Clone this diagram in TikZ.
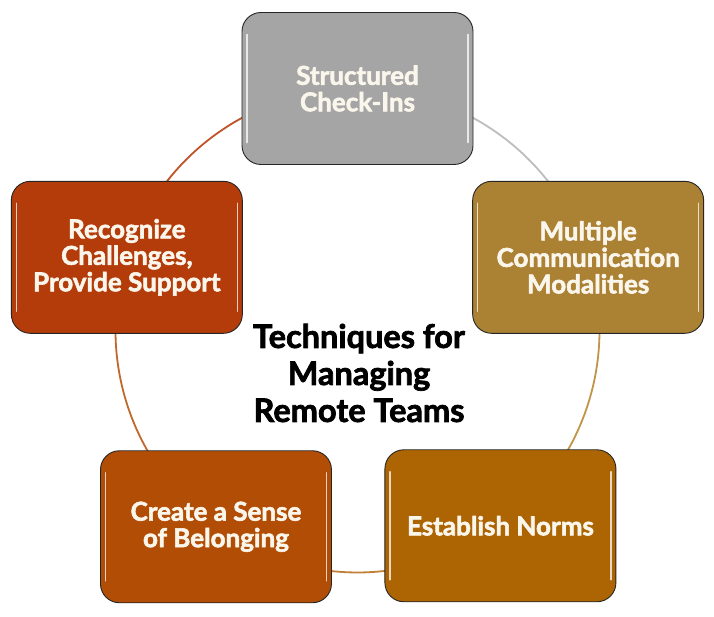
\documentclass[tikz,border=0pt]{standalone}
\usepackage{fontspec}
\setmainfont{Lato}[BoldFeatures={FakeBold=2.2}]
\usetikzlibrary{calc}
\pgfdeclarelayer{bg}
\pgfsetlayers{bg,main}
\definecolor{cTop}{HTML}{A5A5A5}
\definecolor{cRight}{HTML}{AB8133}
\definecolor{cBR}{HTML}{AD6503}
\definecolor{cBL}{HTML}{B24D05}
\definecolor{cLeft}{HTML}{B33C0A}
\definecolor{aTop}{HTML}{BDBDBD}
\definecolor{aRight}{HTML}{C0954A}
\definecolor{aBR}{HTML}{C08038}
\definecolor{aBL}{HTML}{C0692A}
\definecolor{aLeft}{HTML}{C05428}
\definecolor{boxtext}{HTML}{FBF6EC}
\tikzset{
  box/.style={rounded corners=19pt, draw=black!85, line width=0.9pt,
    minimum width=231pt, minimum height=152pt, text=boxtext,
    font=\fontsize{26}{26.5}\selectfont\bfseries, align=center,
    path picture={
      \draw[white, opacity=0.75, line width=1.6pt, line cap=round]
        ([xshift=5pt,yshift=-22pt]path picture bounding box.north west) --
        ([xshift=5pt,yshift=22pt]path picture bounding box.south west);
      \draw[white, opacity=0.75, line width=1.6pt, line cap=round]
        ([xshift=-5pt,yshift=-22pt]path picture bounding box.north east) --
        ([xshift=-5pt,yshift=22pt]path picture bounding box.south east);
    }},
  ring/.style={line width=1.8pt},
  title/.style={font=\fontsize{32.5}{37}\selectfont\bfseries, align=center, text=black}
}
\begin{document}
\begin{tikzpicture}[x=1pt,y=1pt]
\useasboundingbox (0,0) rectangle (714,617);
\coordinate (c) at (357.5,286.5);
\node[box, fill=cTop]   (top)   at ($(c)+(90:242)$)     {Structured\\Check-Ins};
\node[box, fill=cRight] (right) at ($(c)+(17.6:242)$)   {Multiple\\Communication\\Modalities};
\node[box, fill=cBR]    (br)    at ($(c)+(-53.8:242)$)  {Establish Norms};
\node[box, fill=cBL]    (bl)    at ($(c)+(-125.8:242)$) {Create a Sense\\of Belonging};
\node[box, fill=cLeft]  (left)  at ($(c)+(162.4:242)$)  {Recognize\\Challenges,\\Provide Support};
\node[title] (ttl) at (359,244) {Techniques for\\Managing\\Remote Teams};
\begin{pgfonlayer}{bg}
\fill[white] (0,0) rectangle (714,617);
\draw[ring, aTop]   (top.center)   arc[start angle=90,    end angle=17.6,   radius=242pt];
\draw[ring, aRight] (right.center) arc[start angle=17.6,  end angle=-53.8,  radius=242pt];
\draw[ring, aBR]    (br.center)    arc[start angle=-53.8, end angle=-125.8, radius=242pt];
\draw[ring, aBL]    (bl.center)    arc[start angle=-125.8,end angle=-197.6, radius=242pt];
\draw[ring, aLeft]  (left.center)  arc[start angle=162.4, end angle=90,     radius=242pt];
\end{pgfonlayer}
\end{tikzpicture}
\end{document}
